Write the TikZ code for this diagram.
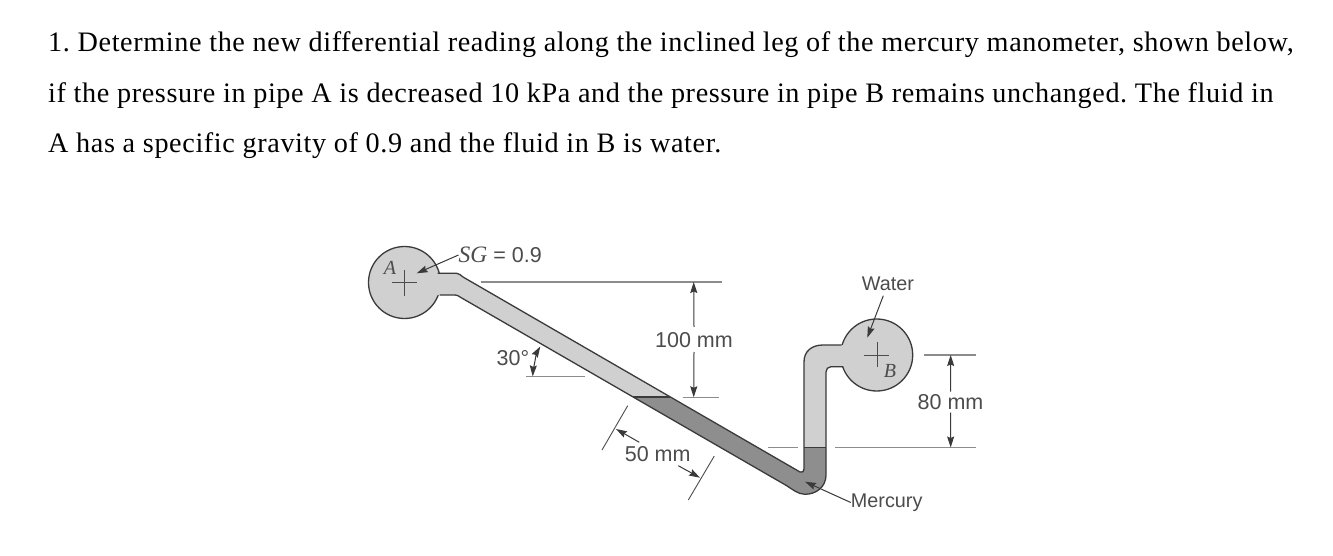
\documentclass[tikz,border=0pt]{standalone}
\usepackage{fontspec}
\setmainfont{Liberation Serif}
\setsansfont{Liberation Sans}
\newfontfamily\parafont[LetterSpace=2.2]{Liberation Serif}
\usetikzlibrary{arrows.meta}
\definecolor{fluid}{HTML}{D0D0D0}
\definecolor{merc}{HTML}{8E8E8E}
\definecolor{wall}{HTML}{3A3A3A}
\definecolor{dimc}{HTML}{8C8C8C}
\definecolor{lab}{HTML}{4C4C4C}
\tikzset{
 para/.style={anchor=base west,inner sep=0pt,font=\parafont\fontsize{28.2}{30}\selectfont\frenchspacing,text=black},
 lbl/.style={inner sep=0pt,font=\sffamily\fontsize{19.8}{22}\selectfont,text=lab},
 numlbl/.style={inner sep=0pt,font=\sffamily\fontsize{21.5}{24}\selectfont,text=lab},
 ilbl/.style={inner sep=0pt,font=\itshape\fontsize{20}{22}\selectfont,text=lab},
 pipe/.style={circle,draw=wall,fill=fluid,line width=1.3pt,minimum size=72pt,inner sep=0pt},
 wallline/.style={draw=wall,line width=1.3pt},
 dimline/.style={draw=dimc,line width=1.3pt},
 crossline/.style={draw=lab,line width=.8pt},
 leader/.style={draw=wall,line width=1pt,-{Stealth[length=11pt,width=7pt,inset=1.5pt]}},
 tick/.style={draw=lab,line width=.9pt},
}
\begin{document}
\begin{tikzpicture}[x=1pt,y=-1pt]
\useasboundingbox (0,0) rectangle (1333,556);
\fill[white] (0,0) rectangle (1333,556);
% question text
\node[para] (l1) at (48,52) {1. Determine the new differential reading along the inclined leg of the mercury manometer, shown below,};
\node[para] (l2) at (48,103) {if the pressure in pipe A is decreased 10 kPa and the pressure in pipe B remains unchanged. The fluid in};
\node[para] (l3) at (48,153) {A has a specific gravity of 0.9 and the fluid in B is water.};
% pipes
\node[pipe] (pipeA) at (404.5,282.5) {};
\node[pipe] (pipeB) at (876.7,355) {};
% fluid fills
\fill[fluid] (430,273.3) -- (456.7,273.3) .. controls (459,273.3) and (461,275.5) .. (463,277)
  -- (669.5,397) -- (633,397) -- (460,297) .. controls (458,295.8) and (457.5,295) .. (455,295) -- (430,295) -- cycle;
\fill[merc] (633,397) -- (669.5,397) -- (800,472) .. controls (802.5,473) and (804,471.5) .. (804,469)
  -- (804,447.5) -- (826,447.5) -- (826,475) .. controls (826,487) and (816,494.3) .. (805,494.3)
  .. controls (798,494.3) and (792,489) .. (786.7,485.7) -- cycle;
\fill[fluid] (804,447.5) -- (804,362) .. controls (804,351) and (812,345) .. (823,345) -- (850,345)
  -- (850,366.7) -- (831,366.7) .. controls (828,366.7) and (826,369) .. (826,372) -- (826,447.5) -- cycle;
% walls
\draw[wallline] (437.5,273.3) -- (456.7,273.3) .. controls (459,273.3) and (461,275.5) .. (463,277)
  -- (800,472) .. controls (802.5,473) and (804,471.5) .. (804,469)
  -- (804,362) .. controls (804,351) and (812,345) .. (823,345) -- (841.7,345);
\draw[wallline] (439.5,295) -- (455,295) .. controls (457.5,295) and (458,295.8) .. (460,297)
  -- (786.7,485.7) .. controls (792,489) and (798,494.3) .. (805,494.3)
  .. controls (816,494.3) and (826,487) .. (826,475)
  -- (826,372) .. controls (826,369) and (828,366.7) .. (831,366.7) -- (843.3,366.7);
\draw[wallline] (633,397) -- (669.5,397);
\draw[wallline] (804,447.5) -- (826,447.5);
% centre crosses
\draw[crossline] (391.7,282.7) -- (417.3,282.7) (404.3,270) -- (404.3,295.7);
\draw[crossline] (864,355) -- (889.3,355) (877.3,342) -- (877.3,367);
% pipe names
\node[ilbl] (nameA) at (390,268) {A};
\node[ilbl] (nameB) at (890,371) {B};
% labels
\node[numlbl,anchor=west] (sg) at (458.5,255) {{\rmfamily\itshape\fontsize{23.5}{24}\selectfont SG} = 0.9};
\node[lbl] (water) at (888,284) {Water};
\node[lbl] (mercury) at (886.7,502.5) {Mercury};
\node[numlbl] (hundred) at (694,340) {100 mm};
\node[numlbl] (eighty) at (950.5,402) {80 mm};
\node[numlbl] (fifty) at (657.7,454) {50 mm};
\node[numlbl] (thirty) at (513,358) {30°};
% leaders
\coordinate (sgEnd) at (416.7,273.3);
\coordinate (waterEnd) at (867.3,337.7);
\coordinate (mercEnd) at (805,481.7);
\draw[leader] (sg.west) -- (sgEnd);
\draw[leader] (883.3,295.7) -- (waterEnd);
\draw[leader] (mercury.west) -- (mercEnd);
% dimension lines
\draw[dimline] (480.7,282) -- (722,282);
\draw[dimline] (682.7,397.3) -- (719,397.3);
\draw[dimline] (924,355) -- (976,355);
\draw[dimline] (835,447.5) -- (976,447.5);
\draw[dimline] (768,447.5) -- (798,447.5);
\draw[dimline] (525.7,376.7) -- (585,376.7);
\coordinate (h1) at (693.7,282);
\coordinate (h2) at (693.7,397.3);
\coordinate (e1) at (950.7,355);
\coordinate (e2) at (950.7,447.5);
\draw[leader] (hundred.north |- 0,327) -- (h1);
\draw[leader] (hundred.south |- 0,352) -- (h2);
\draw[leader] (eighty.north |- 0,391.5) -- (e1);
\draw[leader] (eighty.south |- 0,412.5) -- (e2);
% angle
\coordinate (angA) at (540.3,346.5);
\coordinate (angB) at (532.7,376.4);
\coordinate (angM) at (535,361);
\draw[leader] (angM) .. controls (535.5,357) and (537,352) .. (angA);
\draw[leader] (angM) .. controls (534,366) and (533,371) .. (angB);
% 50 mm
\draw[tick] (627.7,405.7) -- (602,450);
\draw[tick] (714.3,456) -- (688.3,500);
\coordinate (f1) at (616,429);
\coordinate (f2) at (700,477.7);
\draw[leader] (639.3,442.3) -- (f1);
\draw[leader] (678.3,465.7) -- (f2);
\end{tikzpicture}
\end{document}
